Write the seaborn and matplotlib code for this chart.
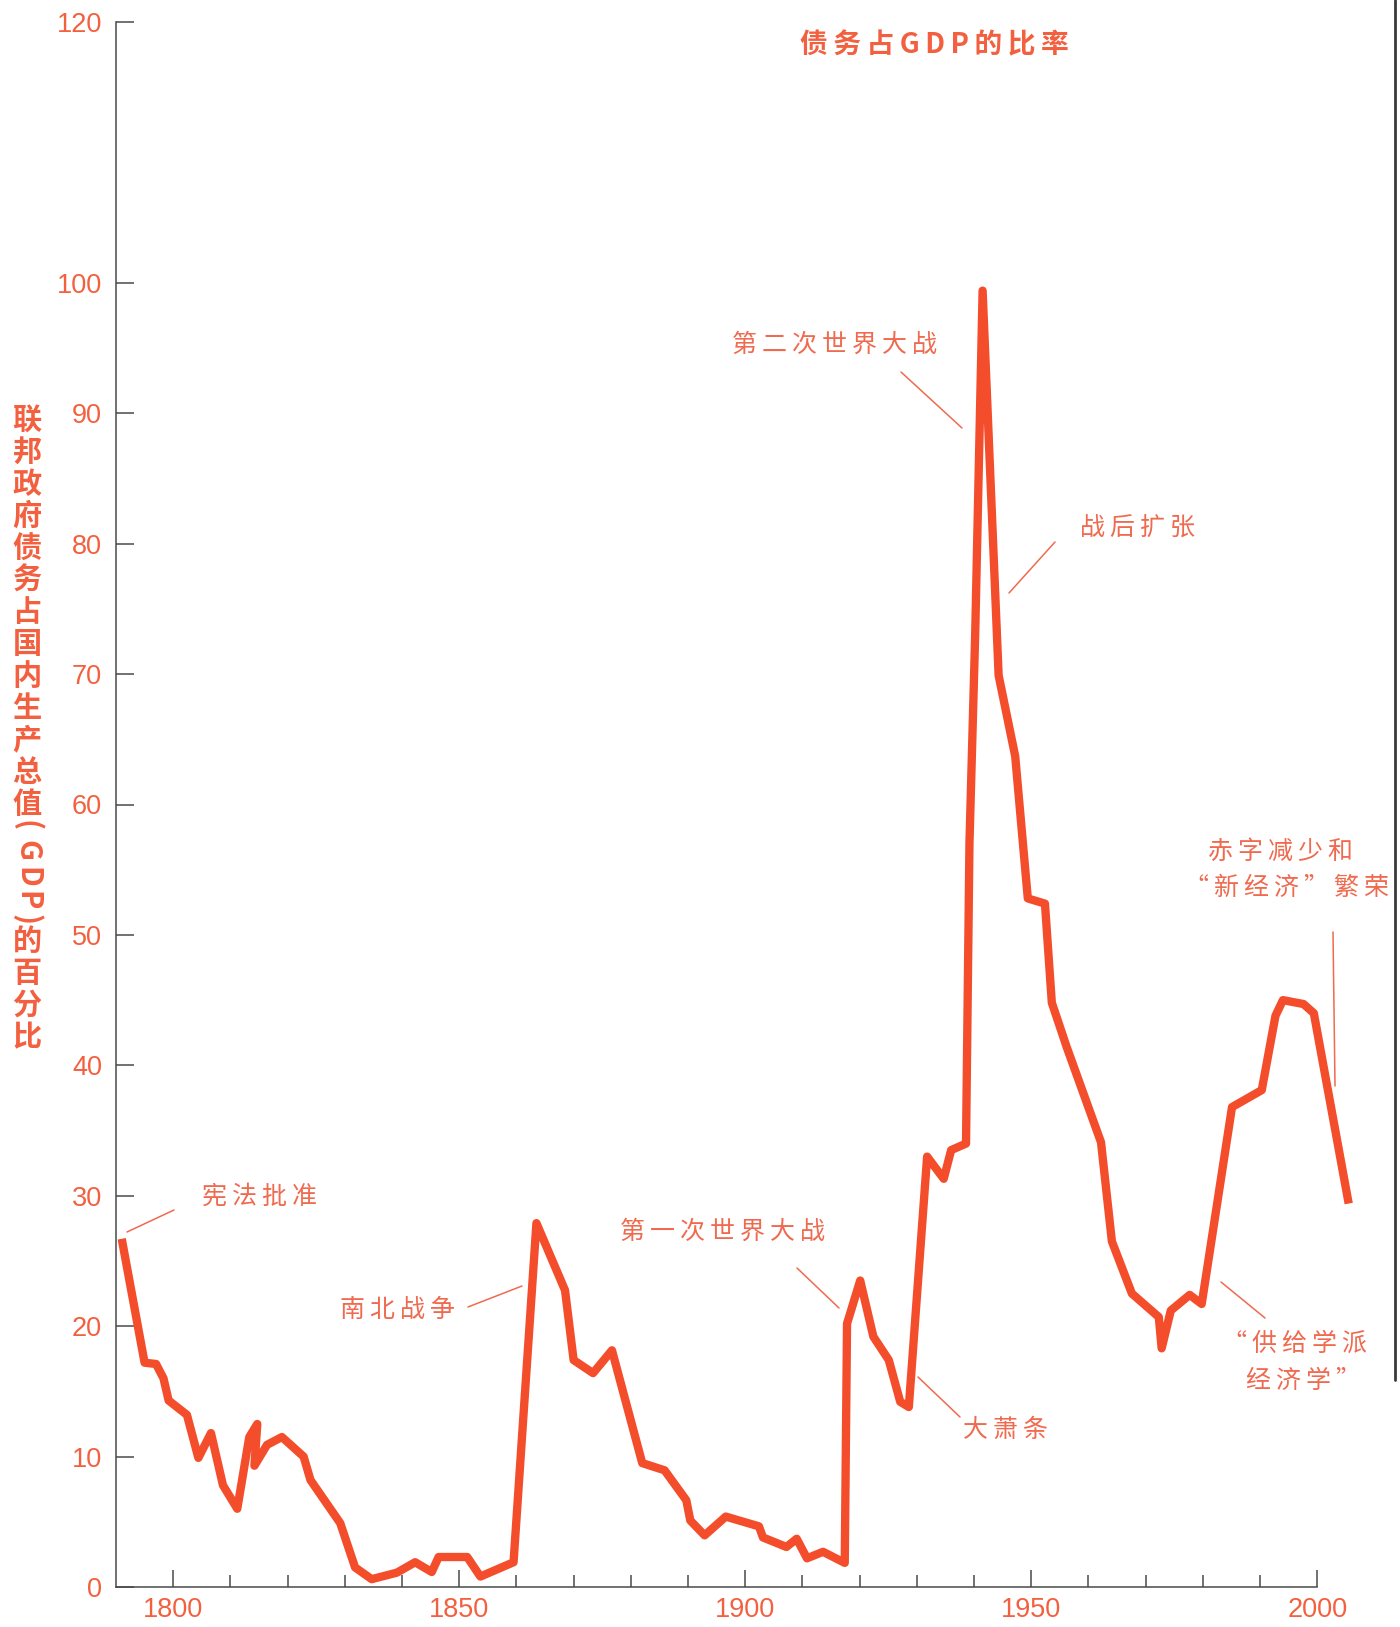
import matplotlib
matplotlib.use("Agg")
import matplotlib.pyplot as plt
from matplotlib.lines import Line2D
import seaborn as sns
import pandas as pd

# ---------------- data ----------------
years = [1791, 1795, 1797, 1798.3, 1799.2, 1802.4, 1804.4, 1806.6, 1808.7, 1811.2,
         1813.3, 1814.7, 1814.2, 1816.4, 1819.0, 1822.8, 1824.0, 1829.2, 1831.8, 1834.7,
         1839.1, 1842.3, 1845.2, 1846.4, 1851.4, 1853.7, 1859.5, 1863.5, 1868.5, 1870.0,
         1873.4, 1876.7, 1882.0, 1885.9, 1889.7, 1890.4, 1892.9, 1896.6, 1902.4, 1903.1,
         1907.2, 1909.0, 1910.8, 1913.6, 1917.4, 1917.8, 1920.1, 1922.4, 1925.1, 1927.1,
         1928.6, 1931.8, 1934.7, 1936.0, 1938.6, 1939.2, 1940.2, 1941.5, 1944.3, 1947.2,
         1949.4, 1952.4, 1953.6, 1956.2, 1962.2, 1964.1, 1967.6, 1972.3, 1972.8, 1974.4,
         1977.7, 1979.8, 1985.1, 1990.3, 1992.7, 1994.0, 1997.6, 1999.4, 2005.5]
debt_pct = [26.7, 17.2, 17.1, 16.0, 14.3, 13.2, 9.9, 11.8, 7.8, 6.0,
            11.5, 12.5, 9.3, 10.9, 11.5, 10.0, 8.2, 4.9, 1.5, 0.6,
            1.1, 1.9, 1.15, 2.3, 2.3, 0.8, 1.9, 27.9, 22.75, 17.4,
            16.4, 18.15, 9.5, 8.95, 6.65, 5.1, 3.96, 5.4, 4.65, 3.8,
            3.07, 3.7, 2.2, 2.7, 1.85, 20.2, 23.5, 19.2, 17.4, 14.2,
            13.8, 33.0, 31.3, 33.5, 34.0, 57.0, 73.0, 99.4, 69.9, 63.7,
            52.8, 52.4, 44.8, 41.4, 34.1, 26.5, 22.5, 20.7, 18.3, 21.2,
            22.4, 21.7, 36.8, 38.1, 43.8, 45.0, 44.7, 44.0, 29.4]

y_ticks = [0, 10, 20, 30, 40, 50, 60, 70, 80, 90, 100, 120]
x_major = [1800, 1850, 1900, 1950, 2000]
x_minor = [1810, 1820, 1830, 1840, 1860, 1870, 1880, 1890, 1910, 1920, 1930, 1940,
           1960, 1970, 1980, 1990]

title = "债务占GDP的比率"
ylabel_chars = ["联", "邦", "政", "府", "债", "务", "占", "国", "内", "生", "产", "总", "值",
                "(", "G", "D", "P", ")", "的", "百", "分", "比"]

annotations = [
    ("宪法批准", (260, 1197), [(127, 1232), (174, 1210)]),
    ("南北战争", (397, 1310), [(468, 1307), (522, 1286)]),
    ("第一次世界大战", (723, 1232), [(797, 1268), (839, 1308)]),
    ("大萧条", (1006, 1430), [(918, 1377), (960, 1417)]),
    ("第二次世界大战", (834, 345), [(901, 372), (962, 428)]),
    ("战后扩张", (1137, 528), [(1009, 593), (1055, 542)]),
    ("赤字减少和", (1281, 852), None),
    ("“新经济”繁荣", (1286, 888), [(1333, 932), (1335, 1086)]),
    ("“供给学派", (1295, 1344), [(1221, 1282), (1265, 1318)]),
    ("经济学”", (1304, 1381), None),
]

# ---------------- styling ----------------
W, H = 1400, 1627
LINE_C = "#f44d2c"
LABEL_C = "#f3603f"
ANNOT_C = "#ef6a4f"
AXIS_C = "#4a4a4a"

sns.set_theme(style="white")
plt.rcParams["font.family"] = ["Noto Sans CJK SC", "DejaVu Sans"]

fig = plt.figure(figsize=(W / 100, H / 100), dpi=100)
fig.patch.set_facecolor("white")
ax = fig.add_axes([116 / W, 1 - 1587 / H, (1363 - 116) / W, 1565 / H])
ax.set_facecolor("white")

df = pd.DataFrame({"year": years, "pct": debt_pct})
sns.lineplot(data=df, x="year", y="pct", sort=False, estimator=None, ax=ax,
             color=LINE_C, linewidth=6, solid_joinstyle="round",
             solid_capstyle="butt", clip_on=False)

ax.set_xlim(1790, 2008)
ax.set_ylim(0, 120)
ax.set_xlabel("")
ax.set_ylabel("")

for s in ["top", "right"]:
    ax.spines[s].set_visible(False)
for s in ["left", "bottom"]:
    ax.spines[s].set_color(AXIS_C)
    ax.spines[s].set_linewidth(1.1)
ax.spines["bottom"].set_bounds(1790, 2000)

ax.set_yticks(y_ticks)
ax.set_yticklabels([str(v) for v in y_ticks])
ax.set_xticks(x_major)
ax.set_xticklabels([str(v) for v in x_major])
ax.set_xticks(x_minor, minor=True)

ax.tick_params(axis="y", which="major", left=True, direction="in", length=13, width=1.1,
               color=AXIS_C, labelcolor=LABEL_C, labelsize=19.5, pad=10)
ax.tick_params(axis="x", which="major", bottom=True, direction="in", length=12, width=1.1,
               color=AXIS_C, labelcolor=LABEL_C, labelsize=19.5, pad=7)
ax.tick_params(axis="x", which="minor", bottom=True, direction="in", length=8.5, width=1.1,
               color=AXIS_C)
for lab in ax.get_xticklabels() + ax.get_yticklabels():
    lab.set_fontfamily(["Liberation Sans", "DejaVu Sans"])


def fx(px):
    return px / W


def fy(py):
    return 1 - py / H


TS = "\u2009"
fam = ["Noto Sans CJK SC", "DejaVu Sans"]

# title
fig.text(fx(934), fy(45), TS.join(title), ha="center", va="center",
         fontsize=20, fontweight="bold", color=LABEL_C, family=fam)

# vertical y label
ypos = [420 + 32 * i for i in range(13)] + [826, 851, 877, 901, 920] + [941, 973, 1005, 1037]
for ch, py in zip(ylabel_chars, ypos):
    rot = -90 if ch in "(GDP)" else 0
    fig.text(fx(27), fy(py), ch, ha="center", va="center", rotation=rot,
             fontsize=21, fontweight="bold", color=LABEL_C, family=fam)

# annotations
for txt, (cx, cy), seg in annotations:
    fig.text(fx(cx), fy(cy), TS.join(txt), ha="center", va="center",
             fontsize=18, color=ANNOT_C, family=fam)
    if seg is not None:
        (x0, y0), (x1, y1) = seg
        fig.add_artist(Line2D([fx(x0), fx(x1)], [fy(y0), fy(y1)],
                              transform=fig.transFigure, color=ANNOT_C, linewidth=1.1))

# page edge on the right
fig.add_artist(Line2D([fx(1395), fx(1395)], [fy(0), fy(1380)],
                      transform=fig.transFigure, color="#3a3a3a", linewidth=2))

fig.savefig("out.png", dpi=100, facecolor="white")
